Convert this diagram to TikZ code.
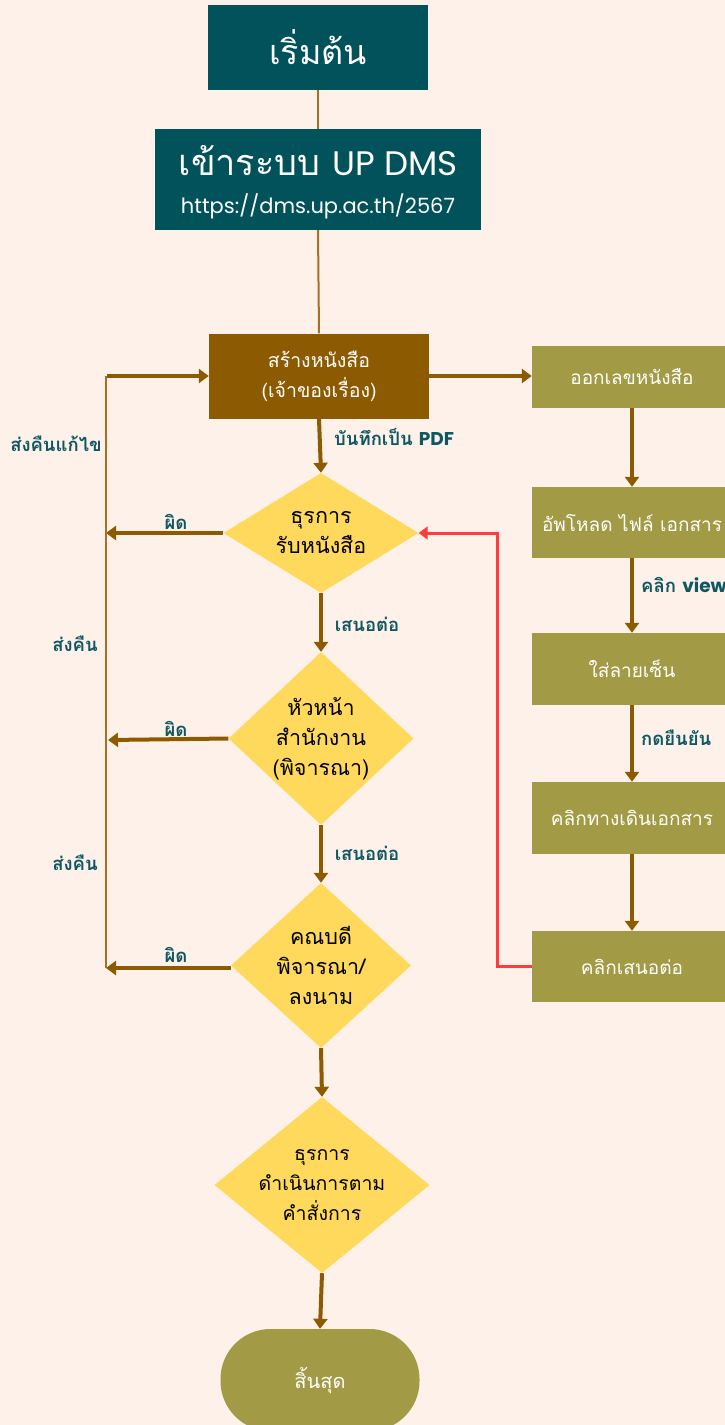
\documentclass[tikz,border=0pt]{standalone}
\usepackage{fontspec}
\newfontfamily\thai[Script=Thai]{Loma}
\newfontfamily\lat{Poppins}
\usetikzlibrary{arrows.meta,shapes.geometric,calc}
\definecolor{bgc}{HTML}{FDF1E9}
\definecolor{tealbox}{HTML}{02525B}
\definecolor{brownbox}{HTML}{8C5A00}
\definecolor{olive}{HTML}{A29A45}
\definecolor{yel}{HTML}{FFD95C}
\definecolor{arr}{HTML}{8C5A00}
\definecolor{thin}{HTML}{A86F22}
\definecolor{lab}{HTML}{0F5761}
\definecolor{redl}{HTML}{FF3B3B}
\tikzset{
  tbox/.style={rectangle, fill=tealbox, text=white, inner sep=0pt, align=center},
  bbox/.style={rectangle, fill=brownbox, text=white, inner sep=0pt, align=center, minimum width=220pt, minimum height=85pt, font=\thai\fontsize{19.5}{30}\selectfont},
  obox/.style={rectangle, fill=olive, text=white, inner sep=0pt, minimum width=200pt, font=\thai\fontsize{19}{22}\selectfont},
  dbox/.style={diamond, fill=yel, text=black, inner sep=0pt, align=center, font=\thai\fontsize{21.5}{30}\selectfont},
  lbl/.style={text=lab, inner sep=0pt, font=\thai\bfseries\fontsize{18.5}{20}\selectfont},
  harr/.style={draw=arr, line width=4pt, -{Triangle[width=14pt,length=10pt]}},
  thinl/.style={draw=thin, line width=2pt},
  redarr/.style={draw=redl, line width=3pt, -{Triangle[width=13pt,length=9pt]}},
}
\begin{document}
\begin{tikzpicture}[x=1pt,y=-1pt]
\fill[bgc] (0,0) rectangle (725,1425);
\useasboundingbox (0,0) rectangle (725,1425);
% left column
\node[tbox, minimum width=220pt, minimum height=85pt, font=\thai\fontsize{34}{38}\selectfont] (start) at (318,47.5) {เริ่มต้น};
\node[tbox, minimum width=326pt, minimum height=101pt, text depth=0pt] (login) at (318,179.5)
  {\raisebox{-3pt}{\thai\fontsize{36}{40}\selectfont เข้าระบบ {\lat\fontsize{34}{40}\selectfont UP DMS}}\\[17pt]{\lat\fontsize{21}{24}\selectfont https://dms.up.ac.th/2567}};
\node[bbox] (create) at (319,376) {สร้างหนังสือ\\(เจ้าของเรื่อง)};
\node[dbox, minimum width=195pt, minimum height=120pt, aspect=1.62] (d1) at (321,533) {ธุรการ\\รับหนังสือ};
\node[dbox, minimum width=178pt, minimum height=167pt, aspect=1.07] (d2) at (321,738.5) {หัวหน้า\\สำนักงาน\\(พิจารณา)};
\node[dbox, minimum width=180pt, minimum height=165pt, aspect=1.09] (d3) at (321,965.5) {คณบดี\\พิจารณา/\\ลงนาม};
\node[dbox, minimum width=215pt, minimum height=176pt, aspect=1.22, font=\thai\fontsize{19.5}{30}\selectfont] (d4) at (322,1185) {ธุรการ\\ดำเนินการตาม\\คำสั่งการ};
\node[rectangle, rounded corners=50pt, fill=olive, text=white, minimum width=199pt, minimum height=102pt, inner sep=0pt, font=\thai\fontsize{20}{22}\selectfont] (end) at (320,1380) {สิ้นสุด};
% right column
\node[obox, minimum height=62pt] (issue) at (632,377) {ออกเลขหนังสือ};
\node[obox, minimum height=71pt] (upload) at (632,522.5) {อัพโหลด ไฟล์ เอกสาร};
\node[obox, minimum height=72pt] (sign) at (632,669) {ใส่ลายเซ็น};
\node[obox, minimum height=72pt] (route) at (632,818) {คลิกทางเดินเอกสาร};
\node[obox, minimum height=71pt] (push) at (632,966.5) {คลิกเสนอต่อ};
% coordinates of the return line
\coordinate (Ltop) at (106,376);
\coordinate (Lbot) at (106,968);
\coordinate (r1) at (106,533);
\coordinate (r2) at (108,740);
\coordinate (r3) at (106,968);
% connectors
\draw[thinl] (start.south) -- (login.north);
\draw[thinl] (login.south) -- (create.north);
\draw[harr] (create.east) -- (create.east -| issue.west);
\draw[harr] (create.south) -- (d1.north);
\draw[harr] (d1.south) -- (d2.north);
\draw[harr] (d2.south) -- (d3.north);
\draw[harr] (d3.south) -- (d4.north);
\draw[harr] (d4.south) -- (end.north);
\draw[harr] (d1.west) -- (r1);
\draw[harr] (d2.west) -- (r2);
\draw[harr] (d3.west |- r3) -- (r3);
\draw[thinl] (Lbot) -- (Ltop);
\draw[harr] ([xshift=1pt]Ltop) -- (create.west);
\draw[harr] (issue.south) -- (upload.north);
\draw[harr] (upload.south) -- (sign.north);
\draw[harr] (sign.south) -- (route.north);
\draw[harr] (route.south) -- (push.north);
\draw[redarr, rounded corners=0pt] (push.west) -- ++(-34,0) |- (d1.east);
% labels
\node[lbl, anchor=west] (l1) at (334,437) {บันทึกเป็น {\lat\bfseries PDF}};
\node[lbl] (l2) at (56,444) {ส่งคืนแก้ไข};
\node[lbl] (l3) at (75,644) {ส่งคืน};
\node[lbl] (l4) at (75,863) {ส่งคืน};
\node[lbl] (l5) at (176,522) {ผิด};
\node[lbl] (l6) at (176,729) {ผิด};
\node[lbl] (l7) at (176,955) {ผิด};
\node[lbl] (l8) at (367,624) {เสนอต่อ};
\node[lbl] (l9) at (367,853) {เสนอต่อ};
\node[lbl, anchor=west] (l10) at (641,585) {คลิก {\lat\bfseries view}};
\node[lbl, anchor=west] (l11) at (641,738) {กดยืนยัน};
\end{tikzpicture}
\end{document}
